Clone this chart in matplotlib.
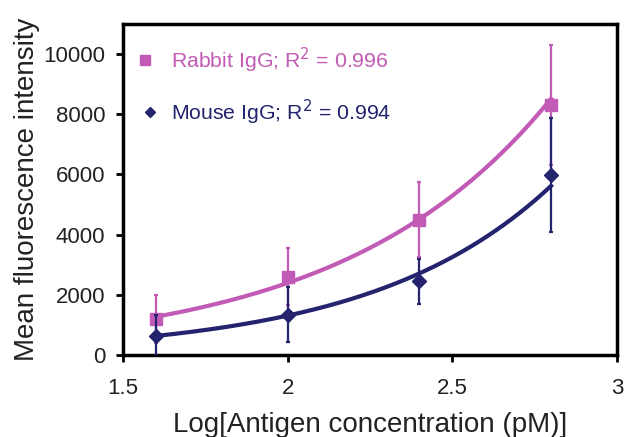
import numpy as np
import matplotlib.pyplot as plt

plt.rcParams['font.family'] = ['Liberation Sans', 'DejaVu Sans']

# Data
log_conc = [1.6, 2.0, 2.4, 2.8]
rabbit = [1200, 2600, 4500, 8300]
rabbit_err = [800, 950, 1250, 2000]
mouse = [640, 1340, 2440, 5970]
mouse_err = [700, 900, 750, 1900]

pink = '#c15bb5'
navy = '#23236e'

fig = plt.figure(figsize=(6.25, 4.37), dpi=100)
ax = fig.add_axes([0.197, 0.188, 0.790, 0.757])

# exponential trendlines (like Excel)
xs = np.linspace(1.6, 2.8, 200)
for y, c in [(rabbit, pink), (mouse, navy)]:
    b, a = np.polyfit(log_conc, np.log(y), 1)
    ax.plot(xs, np.exp(a + b * xs), color=c, lw=3, zorder=2)

ax.errorbar(log_conc, rabbit, yerr=rabbit_err, fmt='s', color=pink, ms=8.5,
            elinewidth=1.6, capsize=1.5, capthick=1.6, zorder=3)
ax.errorbar(log_conc, mouse, yerr=mouse_err, fmt='D', color=navy, ms=7,
            elinewidth=1.6, capsize=1.5, capthick=1.6, zorder=4)

# legend drawn as coloured text
ax.plot([1.567], [9800], 's', color=pink, ms=7.5)
ax.text(1.645, 9800, 'Rabbit IgG; R$^2$ = 0.996', color=pink, fontsize=15.3,
        va='center')
ax.plot([1.582], [8070], 'D', color=navy, ms=5.5)
ax.text(1.645, 8070, 'Mouse IgG; R$^2$ = 0.994', color=navy, fontsize=15.3,
        va='center')

ax.set_xlim(1.5, 3)
ax.set_ylim(0, 11000)
ax.set_xticks([1.5, 2, 2.5, 3])
ax.set_xticklabels(['1.5', '2', '2.5', '3'])
ax.set_yticks([0, 2000, 4000, 6000, 8000, 10000])
ax.tick_params(labelsize=16, width=2, length=5, color='black', labelcolor='#222222')
ax.tick_params(axis='x', pad=12)
ax.tick_params(axis='y', pad=8)
for s in ax.spines.values():
    s.set_linewidth(2.5)

ax.set_xlabel('Log[Antigen concentration (pM)]', fontsize=20, color='#222222',
              labelpad=9)
ax.set_ylabel('Mean fluorescence intensity', fontsize=20, color='#222222',
              labelpad=2)

plt.savefig('out.png', dpi=100)
